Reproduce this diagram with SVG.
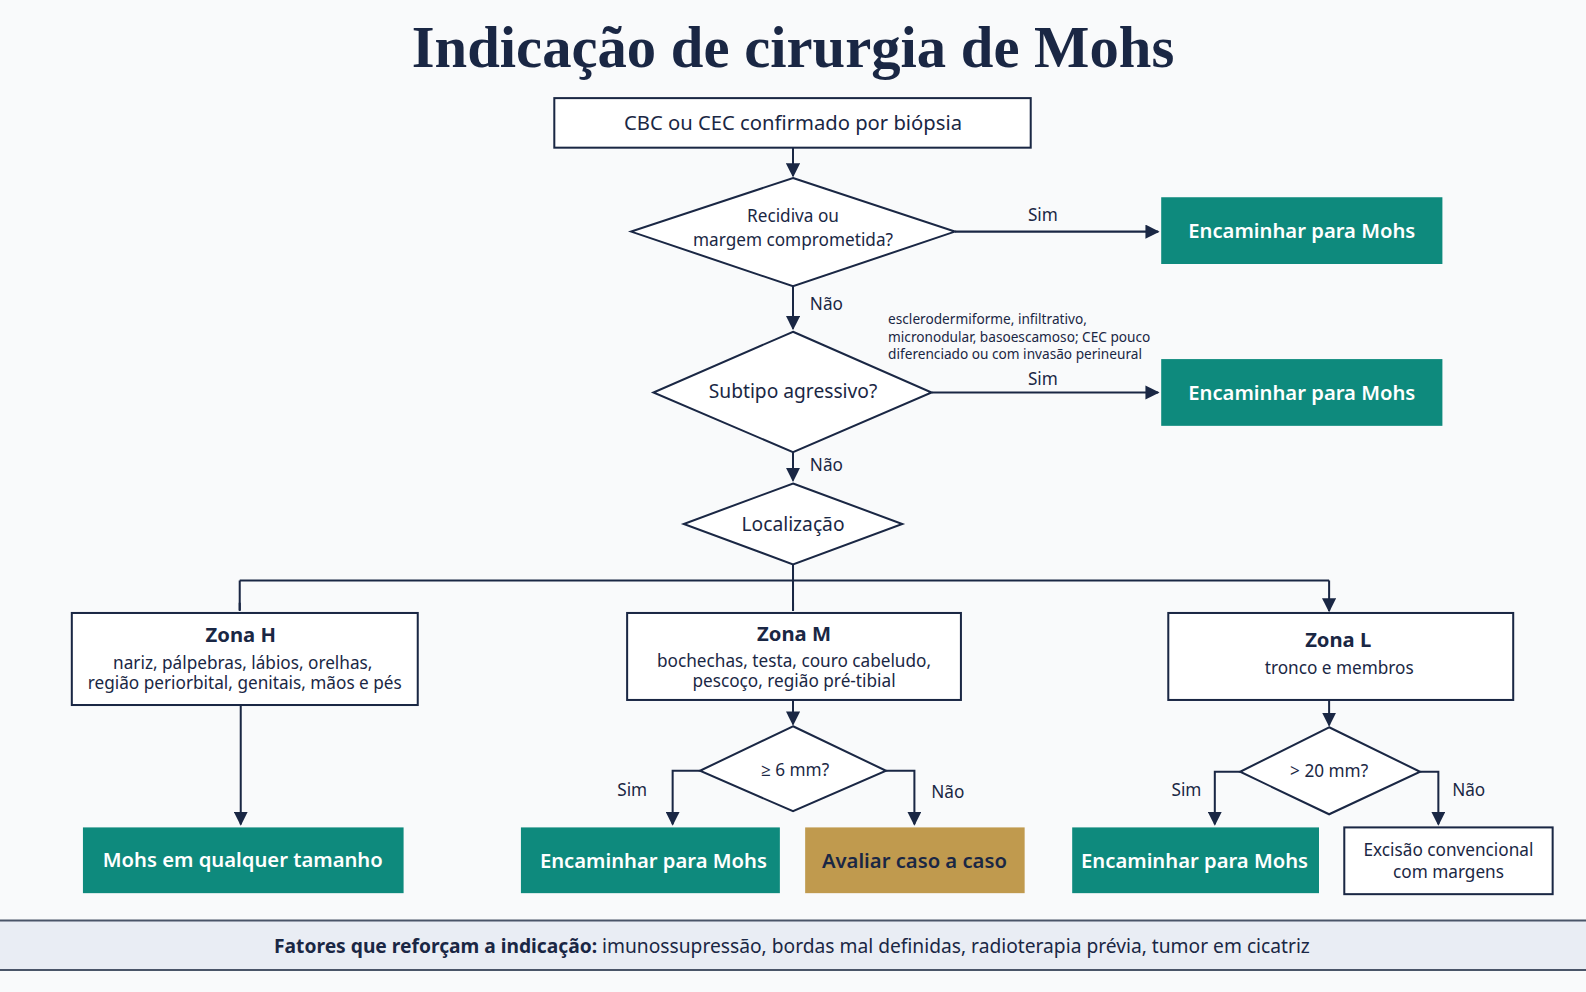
<svg xmlns="http://www.w3.org/2000/svg" width="1586" height="992" viewBox="0 0 1586 992">
<style>
text{font-family:"Noto Sans","Open Sans",sans-serif;fill:#1a2744}
.t{font-size:20px;text-anchor:middle}
.w{fill:#fff;font-size:20px;font-weight:600;text-anchor:middle}
.lb{font-size:17px}
.box{fill:#fff;stroke:#1a2744;stroke-width:2}
.g{fill:#0e8a7d}
.c{fill:none;stroke:#1a2744;stroke-width:2}
.zt{font-size:20px;font-weight:700;text-anchor:middle}
.zs{font-size:17px;text-anchor:middle}
</style>
<defs><marker id="a" viewBox="0 0 10 10" refX="9" refY="5" markerWidth="7" markerHeight="7" orient="auto"><path d="M0,0L10,5L0,10z" fill="#1a2744"/></marker></defs>
<rect width="1586" height="992" fill="#f9fafb"/>
<g transform="scale(1.0115)">
<text x="784" y="66" text-anchor="middle" style="font-family:'Liberation Serif',serif;font-weight:700;font-size:58px">Indicação de cirurgia de Mohs</text>
<g id="connectors">
<path class="c" d="M784,146V174" marker-end="url(#a)"/>
<path class="c" d="M944,229H1145" marker-end="url(#a)"/>
<path class="c" d="M784,283V325" marker-end="url(#a)"/>
<path class="c" d="M921,388H1145" marker-end="url(#a)"/>
<path class="c" d="M784,447V475" marker-end="url(#a)"/>
<path class="c" d="M784,558V574M237,574H1314M237,574V603M784,574V603M1314,574V603" />
<path class="c" d="M237,596V604M784,596V604M1314,596V604" marker-end="url(#a)"/>
<path class="c" d="M238,697V815" marker-end="url(#a)"/>
<path class="c" d="M784,692V716" marker-end="url(#a)"/>
<path class="c" d="M692,762H665V815" marker-end="url(#a)"/>
<path class="c" d="M876,762H904V815" marker-end="url(#a)"/>
<path class="c" d="M1314,692V717" marker-end="url(#a)"/>
<path class="c" d="M1226,763H1201V815" marker-end="url(#a)"/>
<path class="c" d="M1404,763H1422V815" marker-end="url(#a)"/>
<text class="lb" x="1031" y="218" text-anchor="middle">Sim</text>
<text class="lb" x="817" y="306" text-anchor="middle">Não</text>
<text class="lb" x="1031" y="381" text-anchor="middle">Sim</text>
<text class="lb" x="817" y="466" text-anchor="middle">Não</text>
<text class="lb" x="625" y="787" text-anchor="middle">Sim</text>
<text class="lb" x="937" y="789" text-anchor="middle">Não</text>
<text class="lb" x="1173" y="787" text-anchor="middle">Sim</text>
<text class="lb" x="1452" y="787" text-anchor="middle">Não</text>
<text x="878" y="320" font-size="13.5">esclerodermiforme, infiltrativo,</text>
<text x="878" y="338" font-size="13.5">micronodular, basoescamoso; CEC pouco</text>
<text x="878" y="355" font-size="13.5">diferenciado ou com invasão perineural</text>
</g>
<g id="start"><rect class="box" x="548" y="97" width="471" height="49"/><text class="t" x="784" y="129">CBC ou CEC confirmado por biópsia</text></g>
<g id="d1"><path class="box" d="M784,176L944,229L784,283L624,229Z"/><text class="lb" x="784" y="219" text-anchor="middle">Recidiva ou</text><text class="lb" x="784" y="243" text-anchor="middle">margem comprometida?</text></g>
<g id="r1"><rect class="g" x="1148" y="195" width="278" height="66"/><text class="w" x="1287" y="235">Encaminhar para Mohs</text></g>
<g id="d2"><path class="box" d="M784,328L921,388L784,447L646,388Z"/><text x="784" y="393" font-size="19" text-anchor="middle">Subtipo agressivo?</text></g>
<g id="r2"><rect class="g" x="1148" y="355" width="278" height="66"/><text class="w" x="1287" y="395">Encaminhar para Mohs</text></g>
<g id="d3"><path class="box" d="M784,478L892,518L784,558L676,518Z"/><text x="784" y="525" font-size="19" text-anchor="middle">Localização</text></g>
<g id="zh"><rect class="box" x="71" y="606" width="342" height="91"/><text class="zt" x="238" y="635">Zona H</text><text class="zs" x="240" y="661">nariz, pálpebras, lábios, orelhas,</text><text class="zs" x="242" y="681">região periorbital, genitais, mãos e pés</text></g>
<g id="zm"><rect class="box" x="620" y="606" width="330" height="86"/><text class="zt" x="785" y="634">Zona M</text><text class="zs" x="785" y="659">bochechas, testa, couro cabeludo,</text><text class="zs" x="785" y="679">pescoço, região pré-tibial</text></g>
<g id="zl"><rect class="box" x="1155" y="606" width="341" height="86"/><text class="zt" x="1323" y="640">Zona L</text><text class="zs" x="1324" y="666">tronco e membros</text></g>
<g id="d4"><path class="box" d="M784,718L876,762L784,802L692,762Z"/><text x="786" y="767" font-size="17" text-anchor="middle">≥ 6 mm?</text></g>
<g id="d5"><path class="box" d="M1314,719L1404,763L1314,805L1226,763Z"/><text x="1314" y="768" font-size="17" text-anchor="middle">&gt; 20 mm?</text></g>
<g id="o1"><rect class="g" x="82" y="818" width="317" height="65"/><text class="w" x="240" y="857">Mohs em qualquer tamanho</text></g>
<g id="o2"><rect class="g" x="515" y="818" width="256" height="65"/><text class="w" x="646" y="858">Encaminhar para Mohs</text></g>
<g id="o3"><rect fill="#c09a4e" x="796" y="818" width="217" height="65"/><text x="904" y="858" font-size="20" font-weight="600" text-anchor="middle">Avaliar caso a caso</text></g>
<g id="o4"><rect class="g" x="1060" y="818" width="244" height="65"/><text class="w" x="1181" y="858">Encaminhar para Mohs</text></g>
<g id="o5"><rect class="box" x="1329" y="818" width="206" height="66"/><text class="zs" x="1432" y="846">Excisão convencional</text><text class="zs" x="1432" y="868">com margens</text></g>
<g id="footer"><rect x="0" y="910" width="1570" height="49" fill="#e9edf4"/><path d="M0,910H1570M0,959H1570" stroke="#4a5568" stroke-width="2"/><text x="783" y="942" font-size="19" text-anchor="middle"><tspan font-weight="700">Fatores que reforçam a indicação:</tspan> imunossupressão, bordas mal definidas, radioterapia prévia, tumor em cicatriz</text></g>
</g>
</svg>
